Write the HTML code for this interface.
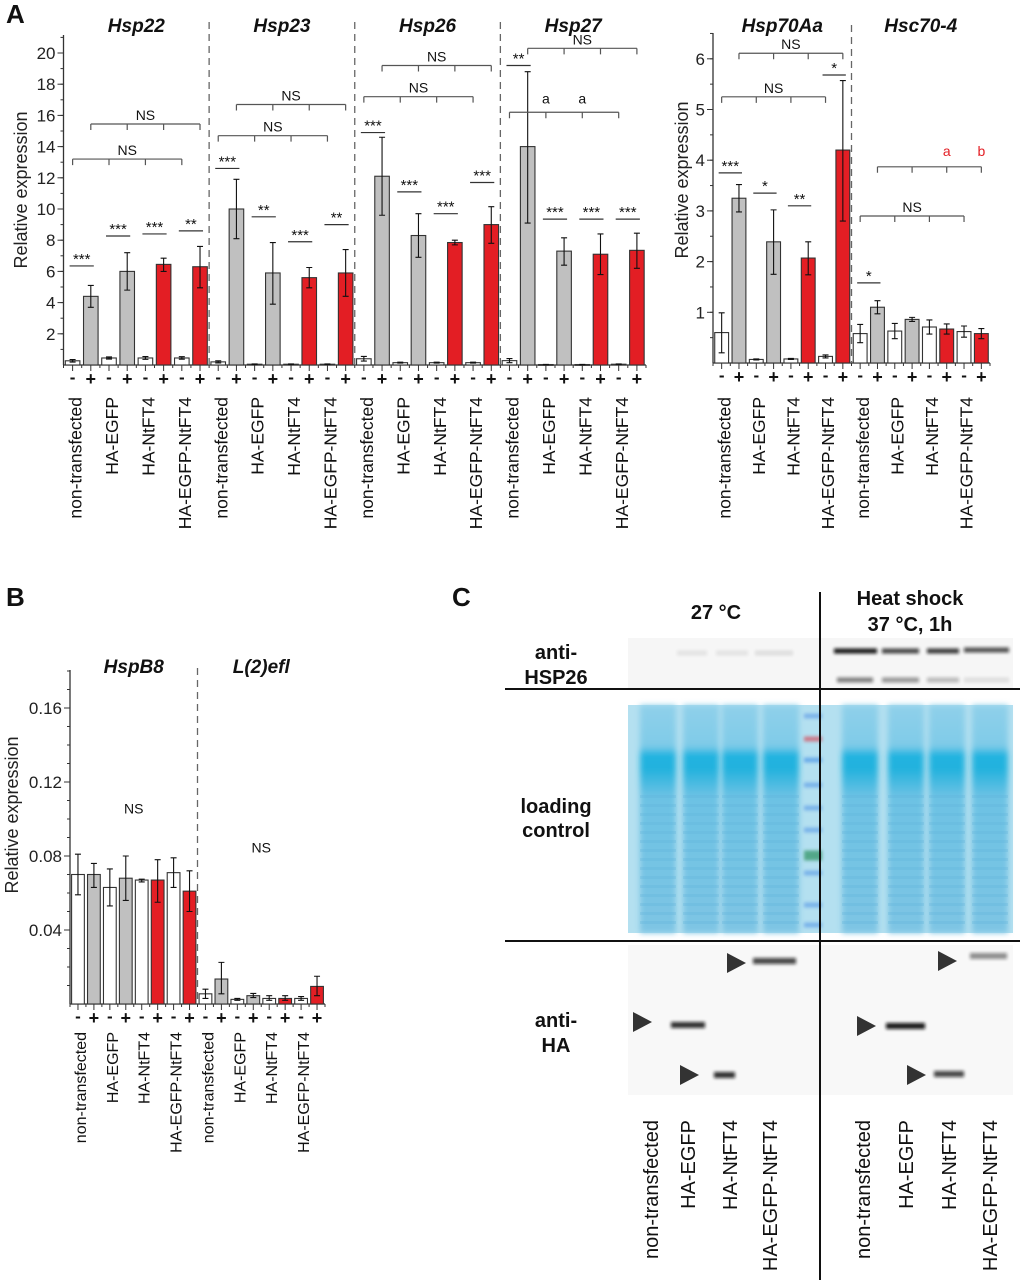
<!DOCTYPE html>
<html><head><meta charset="utf-8"><style>
html,body{margin:0;padding:0;background:#fff;}
svg{display:block;font-family:"Liberation Sans",Arial,sans-serif;}
</style></head><body>
<svg id="fig" width="1020" height="1286" viewBox="0 0 1020 1286" xmlns="http://www.w3.org/2000/svg">
<defs>
<filter id="blur1" x="-20%" y="-200%" width="140%" height="500%"><feGaussianBlur stdDeviation="1.6"/></filter>
<filter id="blur2" x="-20%" y="-50%" width="140%" height="200%"><feGaussianBlur stdDeviation="3"/></filter>
<linearGradient id="laneGrad" x1="0" y1="0" x2="0" y2="1">
<stop offset="0" stop-color="#8fd0ea"/><stop offset="0.18" stop-color="#7fcbe8"/>
<stop offset="0.22" stop-color="#1fb3e0"/><stop offset="0.28" stop-color="#22b2de"/>
<stop offset="0.4" stop-color="#6cc2e4"/><stop offset="1" stop-color="#7ec5e4"/></linearGradient>
</defs>
<g id="layer"></g>
</svg>
<script>
// ---------- DATA ----------
const conditions = ["non-transfected","HA-EGFP","HA-NtFT4","HA-EGFP-NtFT4"];
const signs = ["-","+"];
const barColors = ["#ffffff","#c0c0c0","#ffffff","#c0c0c0","#ffffff","#e31e24","#ffffff","#e31e24"];

const genesA = ["Hsp22","Hsp23","Hsp26","Hsp27"];
const meanHsp22 = [0.27,4.4,0.45,6.0,0.45,6.45,0.45,6.3];
const lowHsp22  = [0.19,3.7,0.38,4.8,0.36,6.0,0.37,4.95];
const highHsp22 = [0.35,5.1,0.52,7.2,0.54,6.85,0.53,7.6];
const meanHsp23 = [0.2,10.0,0.05,5.9,0.05,5.6,0.05,5.9];
const lowHsp23  = [0.13,8.1,0.03,3.9,0.03,4.95,0.03,4.4];
const highHsp23 = [0.27,11.9,0.07,7.85,0.07,6.25,0.07,7.4];
const meanHsp26 = [0.4,12.1,0.15,8.3,0.15,7.85,0.15,9.0];
const lowHsp26  = [0.25,9.6,0.12,6.9,0.12,7.7,0.12,7.8];
const highHsp26 = [0.55,14.6,0.18,9.7,0.18,8.0,0.18,10.15];
const meanHsp27 = [0.28,14.0,0.03,7.3,0.03,7.1,0.05,7.35];
const lowHsp27  = [0.15,9.1,0.02,6.4,0.02,5.8,0.03,6.2];
const highHsp27 = [0.41,18.8,0.04,8.15,0.04,8.4,0.07,8.45];
const ticksA = [2,4,6,8,10,12,14,16,18,20];

const genesA2 = ["Hsp70Aa","Hsc70-4"];
const meanHsp70 = [0.6,3.25,0.07,2.39,0.08,2.07,0.13,4.2];
const lowHsp70  = [0.2,2.98,0.06,1.75,0.07,1.74,0.1,2.8];
const highHsp70 = [0.99,3.52,0.08,3.02,0.09,2.39,0.16,5.57];
const meanHsc70 = [0.58,1.1,0.63,0.86,0.71,0.67,0.62,0.58];
const lowHsc70  = [0.4,0.97,0.48,0.82,0.57,0.57,0.51,0.48];
const highHsc70 = [0.76,1.23,0.78,0.9,0.85,0.77,0.73,0.68];
const ticksA2 = [1,2,3,4,5,6];

const genesB = ["HspB8","L(2)efl"];
const meanHspB8 = [0.070,0.070,0.063,0.068,0.067,0.067,0.071,0.061];
const lowHspB8  = [0.059,0.063,0.053,0.056,0.066,0.055,0.063,0.050];
const highHspB8 = [0.081,0.076,0.073,0.080,0.0675,0.078,0.079,0.072];
const meanL2efl = [0.0055,0.0135,0.0025,0.0045,0.003,0.003,0.003,0.0095];
const lowL2efl  = [0.003,0.0055,0.002,0.0035,0.002,0.002,0.002,0.0045];
const highL2efl = [0.008,0.0225,0.003,0.0057,0.0045,0.0045,0.004,0.015];
const ticksB = [0.04,0.08,0.12,0.16];

const starsA = [[0,6.35,"***"],[2,8.27,"***"],[4,8.4,"***"],[6,8.6,"**"],
 [8,12.6,"***"],[10,9.5,"**"],[12,7.9,"***"],[14,9.0,"**"],
 [16,14.9,"***"],[18,11.1,"***"],[20,9.7,"***"],[22,11.7,"***"],
 [24,19.2,"**"],[26,9.35,"***"],[28,9.35,"***"],[30,9.35,"***"]];
const bracketsA = [[[0,2,4,6],13.2,"NS"],[[1,3,5,7],15.45,"NS"],[[8,10,12,14],14.7,"NS"],[[9,11,13,15],16.7,"NS"],
 [[16,18,20,22],17.2,"NS"],[[17,19,21,23],19.2,"NS"],[[25,27,29,31],20.3,"NS"],[[24,26,28,30],16.2,""]];
const lettersA = [[26,16.75,"a"],[28,16.75,"a"]];
const starsA2 = [[0,3.75,"***"],[2,3.35,"*"],[4,3.1,"**"],[6,5.68,"*"],[8,1.58,"*"]];
const bracketsA2 = [[[0,2,4,6],5.25,"NS"],[[1,3,5,7],6.11,"NS"],[[8,10,12,14],2.9,"NS"],[[9,11,13,15],3.87,""]];
const lettersA2 = [[13,4.08,"a"],[15,4.08,"b"]];
const nsB = [[3.5,0.103,"NS"],[11.5,0.082,"NS"]];

// ---------- DRAW ----------
const NS = "http://www.w3.org/2000/svg";
const root = document.getElementById("layer");
function el(tag, attrs, parent, text){
  const e = document.createElementNS(NS, tag);
  for (const k in attrs) e.setAttribute(k, attrs[k]);
  if (text !== undefined) e.textContent = text;
  (parent||root).appendChild(e);
  return e;
}

function drawPanel(p){
  const g = el("g", {});
  
  
  const n = p.groups.length * 8;
  const slot = (p.x1 - p.x0) / n;
  const cx = i => p.x0 + (i + 0.5) * slot;
  const y = v => p.base - v * p.ppu;
  const ax = el("line", {x1:p.x0, y1:p.top, x2:p.x0, y2:p.base, stroke:"#333","stroke-width":1.3}, g);
  
  
  const bx = el("line", {x1:p.x0, y1:p.base, x2:p.x1, y2:p.base, stroke:"#333","stroke-width":1.3}, g);
  
  
  for (let v = p.minor; y(v) >= p.top - 0.5; v += p.minor){
    el("line", {x1:p.x0-3, y1:y(v), x2:p.x0, y2:y(v), stroke:"#333"}, g);
  }
  p.ticks.forEach(t => {
    el("line", {x1:p.x0-6, y1:y(t), x2:p.x0, y2:y(t), stroke:"#333"}, g);
    const tl = el("text", {x:p.x0-8, y:y(t)+6, "text-anchor":"end","font-size":p.tickFont, fill:"#222"}, g, p.fmt(t));
    
    
  });
  const yt = el("text", {x:0, y:0, transform:`translate(${p.titleX},${p.titleY}) rotate(-90)`, "text-anchor":"middle","font-size":18, fill:"#222"}, g, "Relative expression");
  
  
  for (let i = 0; i <= n; i++){
    el("line", {x1:p.x0+i*slot, y1:p.base, x2:p.x0+i*slot, y2:p.base+3, stroke:"#333"}, g);
    if (i < n) el("line", {x1:cx(i), y1:p.base, x2:cx(i), y2:p.base+6, stroke:"#333"}, g);
  }
  const bw = slot * 0.8;
  p.groups.forEach((gene, gi) => {
    const s0 = gi * 8;
    const tt = el("text", {x:p.x0 + (s0+4)*slot, y:p.geneY, "text-anchor":"middle","font-size":19,"font-weight":"bold","font-style":"italic", fill:"#111"}, g, gene);
    
    
    if (gi > 0){
      const d = el("line", {x1:p.x0+s0*slot, y1:p.dashTop, x2:p.x0+s0*slot, y2:p.base, stroke:"#666","stroke-width":1.3,"stroke-dasharray":"7,5"}, g);
      
      
    }
    const m = p.means[gi], lo = p.lows[gi], hi = p.highs[gi];
    m.forEach((v, k) => {
      const i = s0 + k;
      const b = el("rect", {x:cx(i)-bw/2, y:y(v), width:bw, height:Math.max(0.8, v*p.ppu), fill:barColors[k], stroke:"#333","stroke-width":1.1}, g);
      
      
      const e = el("path", {d:`M${cx(i)} ${y(lo[k])}V${y(hi[k])}M${cx(i)-3} ${y(lo[k])}H${cx(i)+3}M${cx(i)-3} ${y(hi[k])}H${cx(i)+3}`, stroke:"#111","stroke-width":1.1, fill:"none"}, g);
      
      
      const st = el("text", {x:cx(i), y:p.base+ (k%2? 20:18), "text-anchor":"middle","font-size":k%2?18:17,"font-weight":"bold", fill:"#111"}, g, signs[k%2]);
      
      
    });
    conditions.forEach((c, ci) => {
      const xm = (cx(s0+ci*2) + cx(s0+ci*2+1)) / 2;
      const lt = el("text", {x:0, y:0, transform:`translate(${xm+p.labelShift},${p.labelTop}) rotate(-90)`, "text-anchor":"end","font-size":p.labelFont, fill:"#111"}, g, c);
      
      
    });
  });
  (p.stars||[]).forEach(s => {
    const x1 = cx(s[0]) - 3, x2 = cx(s[0]+1) + 3;
    el("line", {x1:x1, y1:y(s[1]), x2:x2, y2:y(s[1]), stroke:"#333","stroke-width":1.2}, g);
    const t = el("text", {x:(x1+x2)/2, y:y(s[1])-2, "text-anchor":"middle","font-size":15, fill:"#111"}, g, s[2]);
    
    
  });
  (p.brackets||[]).forEach(b => {
    const xs = b[0].map(cx), yy = y(b[1]);
    let d = `M${xs[0]} ${yy}H${xs[xs.length-1]}`;
    xs.forEach(x => d += `M${x} ${yy}V${yy+6}`);
    const br = el("path", {d:d, stroke:"#555","stroke-width":1.2, fill:"none"}, g);
    
    
    if (b[2]) {
      const t = el("text", {x:(xs[0]+xs[xs.length-1])/2, y:yy-4, "text-anchor":"middle","font-size":14, fill:"#111"}, g, b[2]);
      
      
    }
  });
  (p.letters||[]).forEach(l => {
    const t = el("text", {x:cx(l[0]), y:y(l[1]), "text-anchor":"middle","font-size":14, fill:p.letterColor}, g, l[2]);
    
    
  });
  (p.ns||[]).forEach(l => {
    const t = el("text", {x:cx(l[0]), y:y(l[1]), "text-anchor":"middle","font-size":14, fill:"#111"}, g, l[2]);
    
    
  });
}

drawPanel({name:"panel-a-small-hsps", groups:genesA, x0:63.5, x1:646, base:365, ppu:15.6, top:35, minor:1, ticks:ticksA, fmt:t=>String(t), tickFont:17,
  titleX:27, titleY:190, geneY:32, dashTop:22, labelTop:397, labelFont:17.5, labelShift:0,
  means:[meanHsp22,meanHsp23,meanHsp26,meanHsp27], lows:[lowHsp22,lowHsp23,lowHsp26,lowHsp27], highs:[highHsp22,highHsp23,highHsp26,highHsp27],
  stars:starsA, brackets:bracketsA, letters:lettersA, letterColor:"#111"});
drawPanel({name:"panel-a-hsp70", groups:genesA2, x0:713, x1:990, base:363, ppu:50.7, top:33, minor:0.5, ticks:ticksA2, fmt:t=>String(t), tickFont:17,
  titleX:688, titleY:180, geneY:32, dashTop:25, labelTop:397, labelFont:17.5, labelShift:0,
  means:[meanHsp70,meanHsc70], lows:[lowHsp70,lowHsc70], highs:[highHsp70,highHsc70],
  stars:starsA2, brackets:bracketsA2, letters:lettersA2, letterColor:"#e31e24"});
drawPanel({name:"panel-b", groups:genesB, x0:70, x1:325, base:1004, ppu:1850, top:670, minor:0.01, ticks:ticksB, fmt:t=>t.toFixed(2), tickFont:17,
  titleX:18, titleY:815, geneY:673, dashTop:668, labelTop:1032, labelFont:16, labelShift:0,
  means:[meanHspB8,meanL2efl], lows:[lowHspB8,lowL2efl], highs:[highHspB8,highL2efl], ns:nsB});

[["A",6,23],["B",6,606],["C",452,606]].forEach(a => {
  const t = el("text", {x:a[1], y:a[2], "font-size":26, "font-weight":"bold", fill:"#111"}, root, a[0]);
  
  
});

// ---------- PANEL C (blot) ----------
const C = el("g", {});


function ctext(x, y, s, size, name){
  const t = el("text", {x:x, y:y, "text-anchor":"middle","font-size":size,"font-weight":"bold", fill:"#111"}, C, s);
  
  
}
ctext(716, 619, "27 °C", 20, "condition-header");
ctext(910, 605, "Heat shock", 20, "condition-header");
ctext(910, 631, "37 °C, 1h", 20, "condition-header");
ctext(556, 659, "anti-", 20, "row-label");
ctext(556, 684, "HSP26", 20, "row-label");
ctext(556, 813, "loading", 20, "row-label");
ctext(556, 837, "control", 20, "row-label");
ctext(556, 1027, "anti-", 20, "row-label");
ctext(556, 1052, "HA", 20, "row-label");

el("rect", {x:628, y:638, width:385, height:50, fill:"#f6f6f6"}, C);
const hspBands = [[677,707,653,0.08],[716,748,653,0.08],[755,793,653,0.1],[834,877,651,0.95],[882,919,651,0.75],[927,959,651,0.8],[964,1009,650,0.7],
  [837,873,680,0.5],[882,919,680,0.4],[927,959,680,0.25],[964,1009,680,0.1]];
hspBands.forEach(b => {
  const r = el("rect", {x:b[0], y:b[2]-2.5, width:b[1]-b[0], height:5, fill:"#111", opacity:b[3], filter:"url(#blur1)"}, C);
  
  
});

el("rect", {x:628, y:705, width:385, height:228, fill:"#b4e0f0"}, C);
const lanes = [658,701,740,781,860,906,947,990];
lanes.forEach(x => {
  const r = el("rect", {x:x-18, y:705, width:36, height:228, fill:"url(#laneGrad)", filter:"url(#blur2)"}, C);
  
  
  for (let yy = 795; yy < 930; yy += 9) el("rect", {x:x-18, y:yy, width:36, height:3, fill:"#5fb4dc", opacity:0.3}, C);
});
[[716,"#6fa8e8"],[739,"#d06070"],[760,"#5aa0e8"],[785,"#6ca8e8"],[808,"#6ca8e8"],[830,"#6ca8e8"],[853,"#3a9a70"],[873,"#6ca8e8"],[905,"#6ca8e8"],[925,"#6ca8e8"]].forEach(m => {
  el("rect", {x:804, y:m[0]-2.5, width:18, height:m[1]==="#3a9a70"?10:5, fill:m[1], opacity:0.8, filter:"url(#blur1)"}, C);
});

el("rect", {x:628, y:945, width:385, height:150, fill:"#f8f8f8"}, C);
const haBands = [[671,705,1025,0.85],[714,735,1075,0.85],[753,796,961,0.75],[886,925,1026,0.95],[934,964,1074,0.75],[970,1007,956,0.45]];
haBands.forEach(b => {
  const r = el("rect", {x:b[0], y:b[2]-3, width:b[1]-b[0], height:6, fill:"#111", opacity:b[3], filter:"url(#blur1)"}, C);
  
  
});
const arrows = [[633,1022],[680,1075],[727,963],[857,1026],[907,1075],[938,961]];
arrows.forEach(a => {
  const p = el("path", {d:`M${a[0]} ${a[1]-10}L${a[0]+19} ${a[1]}L${a[0]} ${a[1]+10}Z`, fill:"#333"}, C);
  
  
});

el("line", {x1:505, y1:689, x2:1020, y2:689, stroke:"#111","stroke-width":2}, C);
el("line", {x1:505, y1:941, x2:1020, y2:941, stroke:"#111","stroke-width":2}, C);
el("line", {x1:820, y1:592, x2:820, y2:1280, stroke:"#111","stroke-width":2}, C);

const laneLabelX = [651,688,730,770,863,906,949,990];
laneLabelX.forEach((x, i) => {
  const t = el("text", {x:0, y:0, transform:`translate(${x+7},1120) rotate(-90)`, "text-anchor":"end","font-size":20, fill:"#111"}, C, conditions[i%4]);
  
  
});
</script>
</body></html>
